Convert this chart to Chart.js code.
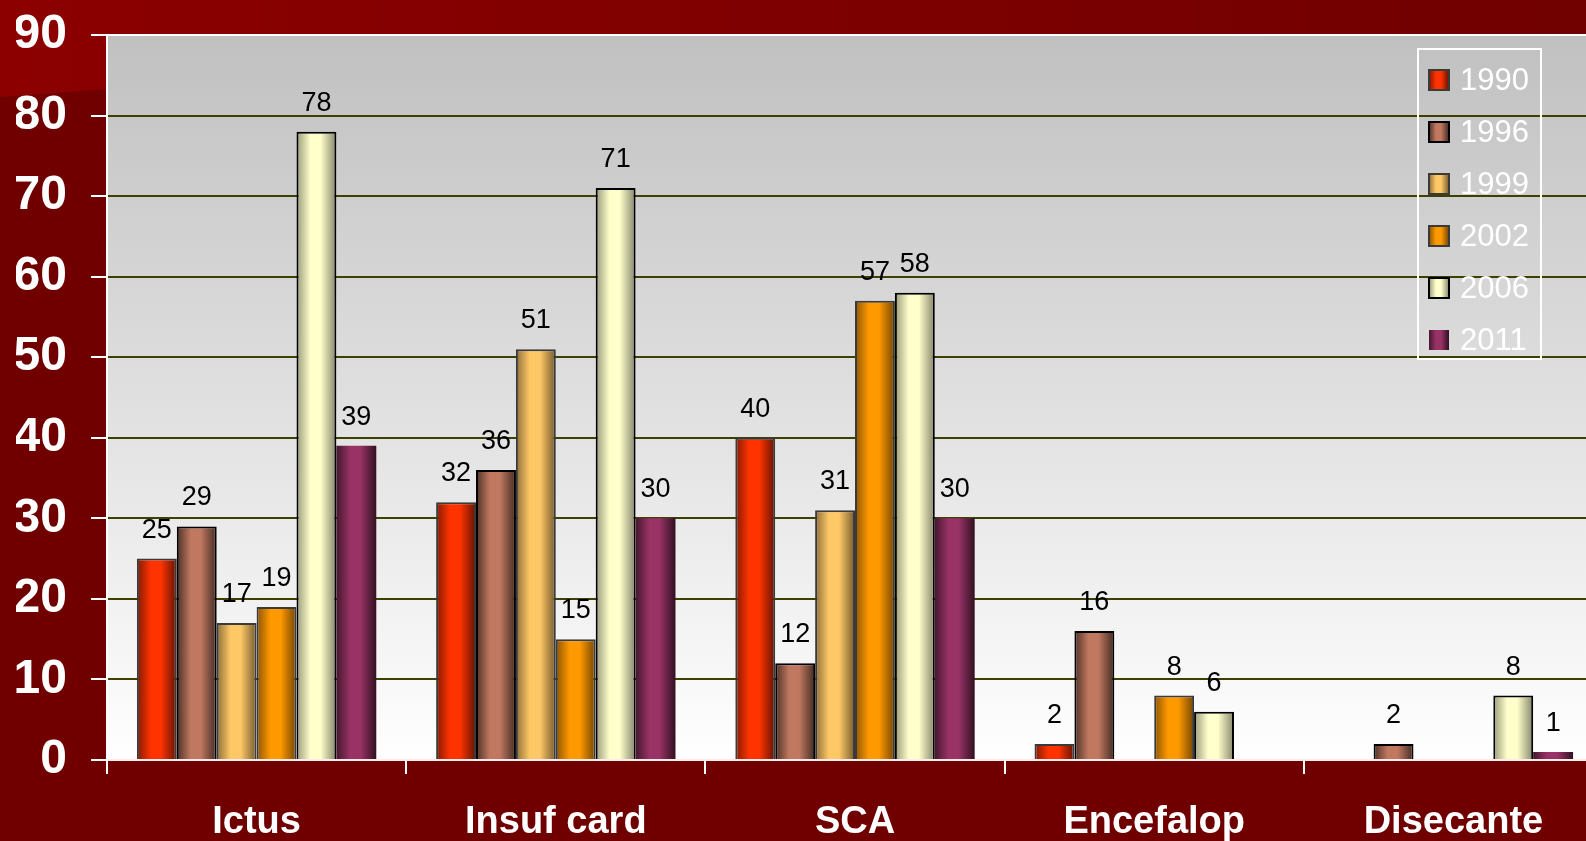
<!DOCTYPE html>
<html>
<head>
<meta charset="utf-8">
<script src="https://cdn.jsdelivr.net/npm/chart.js@4.4.0/dist/chart.umd.min.js"></script>
<style>
  html, body { margin: 0; padding: 0; overflow: hidden; background: #700000; }
  #wrap { width: 1624px; height: 841px; }
</style>
</head>
<body>
<div id="wrap"><canvas id="chart" width="1624" height="841"></canvas></div>
<script>
// categories and yearly series
const categories = ['Ictus', 'Insuf card', 'SCA', 'Encefalop', 'Disecante'];
const years = ['1990', '1996', '1999', '2002', '2006', '2011'];
const values1990 = [25, 32, 40, 2, null];
const values1996 = [29, 36, 12, 16, 2];
const values1999 = [17, 51, 31, null, null];
const values2002 = [19, 15, 57, 8, null];
const values2006 = [78, 71, 58, 6, 8];
const values2011 = [39, 30, 30, null, 1];
const yMax = 90;
const yStep = 10;

const FONT = "'Liberation Sans', Arial, sans-serif";

// base colour, edge shade factor, border colour for each year
const baseColors = [[255, 51, 0], [192, 120, 96], [255, 200, 102], [255, 153, 0], [255, 255, 204], [153, 51, 102]];
const shadeLeft = [0.5, 0.4, 0.55, 0.55, 0.6, 0.45];
const shadeRight = [0.38, 0.35, 0.45, 0.45, 0.52, 0.32];
const borderColors = ['#3a3a3a', '#000000', '#3a3a3a', '#3a3a3a', '#000000', 'rgba(0,0,0,0)'];
const borderWidths = [2, 2, 2, 2, 2, 0];

const CAT_PCT = 0.8;

function rgb(c, k) {
  return `rgb(${Math.round(c[0] * k)},${Math.round(c[1] * k)},${Math.round(c[2] * k)})`;
}

// cylinder-like horizontal shading across a bar
function shadedFill(ctx, x0, x1, i) {
  const g = ctx.createLinearGradient(x0, 0, x1, 0);
  const c = baseColors[i];
  g.addColorStop(0, rgb(c, shadeLeft[i]));
  g.addColorStop(0.35, rgb(c, 1));
  g.addColorStop(0.6, rgb(c, 1));
  g.addColorStop(1, rgb(c, shadeRight[i]));
  return g;
}

function barFill(context) {
  const chart = context.chart;
  const xs = chart.scales.x;
  const i = context.datasetIndex;
  if (!xs || !chart.chartArea) return rgb(baseColors[i], 1);
  const center = xs.getPixelForValue(context.dataIndex);
  const groupW = (xs.width / categories.length) * CAT_PCT;
  const bw = groupW / years.length;
  const left = center - groupW / 2 + i * bw;
  return shadedFill(chart.ctx, left, left + bw, i);
}

const seriesValues = [values1990, values1996, values1999, values2002, values2006, values2011];

const datasets = years.map((y, i) => ({
  label: y,
  data: seriesValues[i],
  backgroundColor: barFill,
  borderColor: borderColors[i],
  borderWidth: borderWidths[i],
  barPercentage: 1,
  categoryPercentage: CAT_PCT
}));

// page background and plot area fill
const backdrop = {
  id: 'backdrop',
  beforeDraw(chart) {
    const { ctx, width, height, chartArea: a } = chart;
    ctx.save();
    ctx.fillStyle = '#700000';
    ctx.fillRect(0, 0, width, height);
    const band = ctx.createLinearGradient(0, 0, width, 0);
    band.addColorStop(0, '#8c0000');
    band.addColorStop(1, '#700000');
    ctx.fillStyle = band;
    ctx.beginPath();
    ctx.moveTo(0, 0);
    ctx.lineTo(width, 0);
    ctx.lineTo(width, 30);
    ctx.lineTo(a.left, 89);
    ctx.lineTo(0, 97);
    ctx.closePath();
    ctx.fill();
    const plot = ctx.createLinearGradient(0, a.top, 0, a.bottom);
    plot.addColorStop(0, '#c0c0c0');
    plot.addColorStop(1, '#ffffff');
    ctx.fillStyle = plot;
    ctx.fillRect(a.left, a.top, a.right - a.left, a.bottom - a.top);
    ctx.restore();
  }
};

// value labels above each bar
const valueLabels = {
  id: 'valueLabels',
  afterDatasetsDraw(chart) {
    const ctx = chart.ctx;
    ctx.save();
    ctx.fillStyle = '#000';
    ctx.font = `27px ${FONT}`;
    ctx.textAlign = 'center';
    ctx.textBaseline = 'alphabetic';
    chart.data.datasets.forEach((ds, di) => {
      chart.getDatasetMeta(di).data.forEach((bar, i) => {
        const v = ds.data[i];
        if (v === null || v === undefined) return;
        ctx.fillText(String(v), bar.x, bar.y - 21);
      });
    });
    ctx.restore();
  }
};

// legend box inside the plot, top right
const boxLegend = {
  id: 'boxLegend',
  afterDraw(chart) {
    const { ctx, chartArea: a } = chart;
    const x = a.right - 185, y = a.top + 14, w = 123, h = 310;
    ctx.save();
    ctx.strokeStyle = '#fff';
    ctx.lineWidth = 2;
    ctx.strokeRect(x, y, w, h);
    ctx.font = `31px ${FONT}`;
    ctx.textBaseline = 'middle';
    chart.data.datasets.forEach((ds, i) => {
      const cy = y + 31 + i * 52;
      const sx = x + 11, sy = cy - 10;
      ctx.fillStyle = shadedFill(ctx, sx, sx + 20, i);
      ctx.fillRect(sx, sy, 20, 20);
      if (borderWidths[i]) {
        ctx.strokeStyle = borderColors[i];
        ctx.lineWidth = 2;
        ctx.strokeRect(sx, sy, 20, 20);
      }
      ctx.fillStyle = '#fff';
      ctx.fillText(ds.label, x + 42, cy + 1);
    });
    ctx.restore();
  }
};

new Chart(document.getElementById('chart'), {
  type: 'bar',
  data: { labels: categories, datasets },
  options: {
    responsive: false,
    animation: false,
    layout: { padding: { left: 16, right: 21, top: 35, bottom: 0 } },
    plugins: {
      legend: { display: false },
      tooltip: { enabled: false }
    },
    scales: {
      x: {
        afterFit: s => { s.height = 81; },
        ticks: { color: '#fff', font: { family: FONT, size: 38, weight: 'bold' }, padding: 26 },
        grid: { drawOnChartArea: false, tickLength: 14, tickColor: '#fff', lineWidth: 2 },
        border: { color: 'rgba(255,235,235,0.9)', width: 2 }
      },
      y: {
        min: 0,
        max: yMax,
        afterFit: s => { s.width = 91; s.paddingTop = 0; s.paddingBottom = 0; },
        ticks: { stepSize: yStep, color: '#fff', font: { family: FONT, size: 48, weight: 'bold' }, padding: 24 },
        grid: {
          color: c => (c.tick && (c.tick.value === yMax || c.tick.value === 0)) ? '#ffffff' : '#3f3f00',
          lineWidth: 2,
          tickLength: 16,
          tickColor: '#fff'
        },
        border: { color: '#fff', width: 2 }
      }
    }
  },
  plugins: [backdrop, valueLabels, boxLegend]
});
</script>
</body>
</html>
